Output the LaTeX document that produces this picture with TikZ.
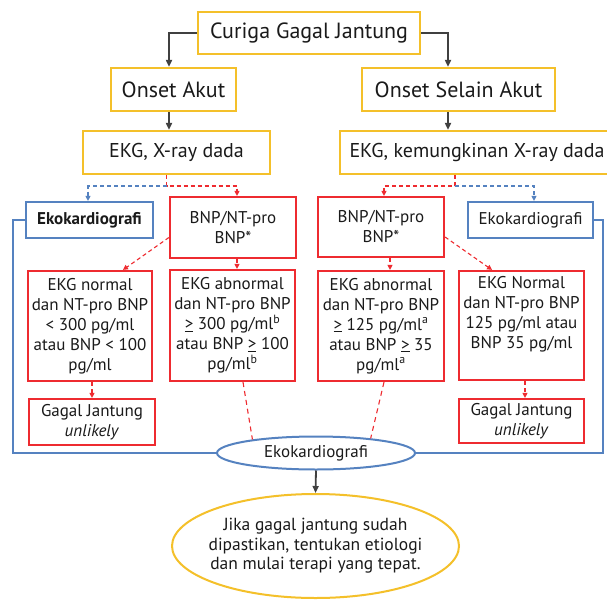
\documentclass[tikz,border=0pt]{standalone}
\usepackage{fontspec}
\setmainfont{PT Sans}
\usepackage{tikz}
\usetikzlibrary{arrows.meta,shapes.geometric,calc}
\definecolor{cY}{HTML}{F4C02A}
\definecolor{cR}{HTML}{EE2B30}
\definecolor{cB}{HTML}{5582C0}
\definecolor{cK}{HTML}{404040}
\definecolor{cT}{HTML}{1A1A1A}
\tikzset{
  box/.style={draw=#1,line width=2.2pt,fill=white,text=cT,align=center,inner sep=2pt},
  oval/.style={ellipse,draw=#1,line width=2pt,fill=white,text=cT,align=center},
  flow/.style={-{Triangle[length=7pt,width=6pt]},draw=cK,line width=1.8pt},
  rdash/.style={-{Triangle[length=5pt,width=5pt]},draw=cR,line width=1.1pt,dash pattern=on 4pt off 3pt},
  rline/.style={draw=cR,line width=1.1pt,dash pattern=on 5pt off 4pt},
  bdash/.style={-{Triangle[length=5pt,width=5pt]},draw=cB,line width=1.1pt,dash pattern=on 4pt off 3pt},
  bline/.style={draw=cB,line width=1.5pt},
  big/.style={font=\fontsize{22}{26}\selectfont},
  mid/.style={font=\fontsize{20}{24}\selectfont},
  small/.style={font=\fontsize{17}{20}\selectfont}
}

\begin{document}
\begin{tikzpicture}[x=1pt,y=-1pt]
    \useasboundingbox (0,0) rectangle (607,599);
    % Nodes
    \node[box=cY, big, minimum width=222pt, minimum height=42pt] (curiga) at (309,33) {Curiga Gagal Jantung};
    \node[box=cY, big, minimum width=125pt, minimum height=43pt] (akut) at (173.5,89.5) {Onset Akut};
    \node[box=cY, big, minimum width=193pt, minimum height=43pt] (nonakut) at (458.5,89.5) {Onset Selain Akut};
    \node[box=cY, mid, minimum width=187pt, minimum height=43pt] (xray) at (176.5,152.5) {EKG, X-ray dada};
    \node[box=cY, mid, minimum width=274pt, minimum height=43pt] (xraykem) at (477,152.5) {EKG, kemungkinan X-ray dada};

    \node[box=cB, small, minimum width=127pt, minimum height=36pt, font=\fontsize{17}{20}\selectfont\bfseries] (ekoL) at (89.5,220) {Ekokardiografi};
    \node[box=cR, small, minimum width=126pt, minimum height=61pt] (bnpL) at (233,227.5) {BNP/NT-pro\\BNP*};
    \node[box=cR, small, minimum width=126pt, minimum height=60pt] (bnpR) at (381,227) {BNP/NT-pro\\BNP*};
    \node[box=cB, small, minimum width=125pt, minimum height=36pt] (ekoR) at (530.5,220) {Ekokardiografi};

    \node[box=cR, small, minimum width=124pt, minimum height=110pt] (normL) at (90,326) {EKG normal\\dan NT-pro BNP\\< 300 pg/ml\\atau BNP < 100\\pg/ml};
    \node[box=cR, small, minimum width=125pt, minimum height=111pt] (abnL) at (232.5,325.5) {EKG abnormal\\dan NT-pro BNP\\\underline{>} 300 pg/ml\textsuperscript{b}\\atau BNP \underline{>} 100\\pg/ml\textsuperscript{b}};
    \node[box=cR, small, minimum width=126pt, minimum height=110pt] (abnR) at (381,326) {EKG abnormal\\dan NT-pro BNP\\\underline{>} 125 pg/ml\textsuperscript{a}\\atau BNP \underline{>} 35\\pg/ml\textsuperscript{a}};
    \node[box=cR, small, minimum width=125pt, minimum height=109pt] (normR) at (521.5,325.5) {EKG Normal\\dan NT-pro BNP\\125 pg/ml atau\\BNP 35 pg/ml\\\strut};

    \node[box=cR, small, minimum width=126pt, minimum height=46pt] (gjL) at (92,422) {Gagal Jantung\\\textit{unlikely}};
    \node[box=cR, small, minimum width=125pt, minimum height=44pt] (gjR) at (521.5,421) {Gagal Jantung\\\textit{unlikely}};

    \node[oval=cB, small, minimum width=198pt, minimum height=33pt, inner sep=0pt] (ekoM) at (316,453) {Ekokardiografi};
    \node[oval=cY, minimum width=287pt, minimum height=104pt, inner xsep=-12pt, font=\fontsize{17.5}{19.5}\selectfont] (final) at (315.5,546) {Jika gagal jantung sudah\\dipastikan, tentukan etiologi\\dan mulai terapi yang tepat.};

    \coordinate (colL) at (169,0);
    \coordinate (colR) at (448,0);
    \coordinate (forkL) at (166.5,186);
    \coordinate (forkR) at (455,186);
    \coordinate (cornerL) at (13,453);
    \coordinate (cornerR) at (603,453);

    % Paths
    \draw[flow] (curiga.west) -| (colL |- akut.north);
    \draw[flow] (curiga.east) -| (colR |- nonakut.north);
    \draw[flow] (colL |- akut.south) -- (colL |- xray.north);
    \draw[flow] (colR |- nonakut.south) -- (colR |- xraykem.north);

    \draw[rdash] (forkL |- xray.south) -- (forkL) -| ([xshift=4pt]bnpL.north);
    \draw[bdash] (forkL) -| ([xshift=-1.5pt]ekoL.north);
    \draw[rdash] (forkR |- xraykem.south) -- (forkR) -| ([xshift=3pt]bnpR.north);
    \draw[bdash] (forkR) -| ([xshift=3.5pt]ekoR.north);

    \draw[rdash] ([yshift=-10pt]bnpL.west) -- ([xshift=33pt]normL.north);
    \draw[rdash] ([xshift=4pt]bnpL.south) -- ([xshift=4.5pt]abnL.north);
    \draw[rdash] ([xshift=9pt]bnpR.south) -- ([xshift=9pt]abnR.north);
    \draw[rdash] ([yshift=-10pt]bnpR.east) -- ([xshift=-29.5pt]normR.north);

    \draw[rdash] (gjL.north |- normL.south) -- (gjL.north);
    \draw[rdash] ([xshift=3.5pt]normR.south) -- ([xshift=3.5pt]gjR.north);

    \draw[rline] ([xshift=10.5pt]abnL.south) -- (ekoM.168);
    \draw[rline] ([xshift=3pt]abnR.south) -- (ekoM.15);

    \draw[bline] (ekoL.west) -| (cornerL) -- (ekoM.west);
    \draw[bline] (ekoR.east) -| (cornerR) -- (ekoM.east);

    \draw[flow] (ekoM.south) -- (final.north);
\end{tikzpicture}
\end{document}
